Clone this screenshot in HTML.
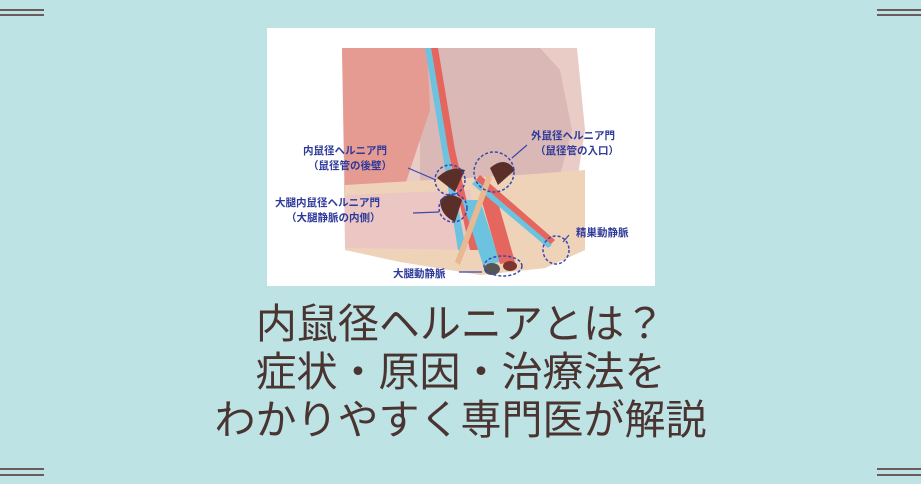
<!DOCTYPE html>
<html><head><meta charset="utf-8"><style>
html,body{margin:0;padding:0}
body{width:921px;height:484px;background:#bde3e4;position:relative;overflow:hidden;font-family:"Liberation Sans","Noto Sans CJK JP",sans-serif}
.l{position:absolute;height:2px;background:#6a5c5c;width:44px}
.t{position:absolute;left:0;width:921px;text-align:center;color:#4a3431;font-size:41px;line-height:44px;white-space:nowrap}
.lab{font-family:"Liberation Sans","Noto Sans CJK JP",sans-serif;font-size:10.5px;fill:#2e3a9a;font-weight:bold}
</style></head><body>
<div class="l" style="left:0;top:9px"></div><div class="l" style="left:0;top:14px"></div>
<div class="l" style="right:0;top:9px"></div><div class="l" style="right:0;top:14px"></div>
<div class="l" style="left:0;top:468px"></div><div class="l" style="left:0;top:474px"></div>
<div class="l" style="right:0;top:468px"></div><div class="l" style="right:0;top:474px"></div>
<svg style="position:absolute;left:267px;top:28px" width="388" height="258" viewBox="267 28 388 258">
<rect x="267" y="28" width="388" height="258" fill="#fff"/>
<path d="M342 48 L577 48 L585 130 L578 175 L585 250 L545 268 L480 275 L345 250 Z" fill="#e9ccc6"/>
<path d="M420 48 L540 48 L560 70 L572 130 L560 175 L500 185 L420 190 Z" fill="#d9b8b6"/>
<path d="M342 48 L427 48 L430 110 L405 185 L345 200 Z" fill="#e59a92"/>
<path d="M345 185 L430 180 L520 175 L585 170 L585 250 L545 268 L480 275 L400 262 L345 250 Z" fill="#efd3b8"/>
<path d="M345 195 L470 190 L480 250 L345 248 Z" fill="#ebc6c3"/>
<path d="M431 48 L438 48 L455 150 L478 250 L470 250 L448 150 Z" fill="#e4665e"/>
<path d="M425 48 L431 48 L448 150 L466 250 L458 250 L442 150 Z" fill="#6cc3e0"/>
<path d="M462 200 L480 200 L500 262 L483 265 Z" fill="#6cc3e0"/>
<path d="M480 195 L495 192 L515 262 L500 264 Z" fill="#e4665e"/>
<path d="M480 175 L555 240 L550 245 L476 180 Z" fill="#e4665e"/>
<path d="M476 180 L552 245 L548 248 L472 184 Z" fill="#6cc3e0"/>
<path d="M487 175 L492 178 L460 265 L455 262 Z" fill="#e8b890"/>
<path d="M437 178 Q450 165 465 170 L455 192 Z" fill="#5a2f2a"/>
<path d="M490 168 Q505 155 515 170 L498 185 Z" fill="#5a2f2a"/>
<path d="M440 200 Q450 190 462 200 L455 222 Q440 215 440 200Z" fill="#5a2f2a"/>
<ellipse cx="492" cy="269" rx="8" ry="6" fill="#555"/><ellipse cx="510" cy="266" rx="7" ry="5" fill="#7a3530"/>
<g fill="none" stroke="#3a48b0" stroke-width="1.5" stroke-dasharray="3 2">
<circle cx="450" cy="180" r="15"/><circle cx="494" cy="172" r="20"/><circle cx="453" cy="208" r="14"/>
<ellipse cx="503" cy="266" rx="19" ry="10"/><ellipse cx="556" cy="250" rx="13" ry="14"/></g>
<g stroke="#3a48b0" stroke-width="1.2"><line x1="408" y1="168" x2="436" y2="180"/><line x1="413" y1="213" x2="439" y2="212"/><line x1="527" y1="145" x2="512" y2="158"/><line x1="569" y1="235" x2="563" y2="242"/><line x1="459" y1="272" x2="482" y2="272"/></g>
<text class="lab" x="303" y="154">内鼠径ヘルニア門</text><text class="lab" x="308" y="169">（鼠径管の後壁）</text>
<text class="lab" x="275" y="206">大腿内鼠径ヘルニア門</text><text class="lab" x="286" y="221">（大腿静脈の内側）</text>
<text class="lab" x="531" y="139">外鼠径ヘルニア門</text><text class="lab" x="535" y="154">（鼠径管の入口）</text>
<text class="lab" x="576" y="236">精巣動静脈</text><text class="lab" x="393" y="277">大腿動静脈</text>
</svg>
<div class="t" style="top:302px">内鼠径ヘルニアとは？</div>
<div class="t" style="top:350px">症状・原因・治療法を</div>
<div class="t" style="top:398px">わかりやすく専門医が解説</div>
</body></html>
